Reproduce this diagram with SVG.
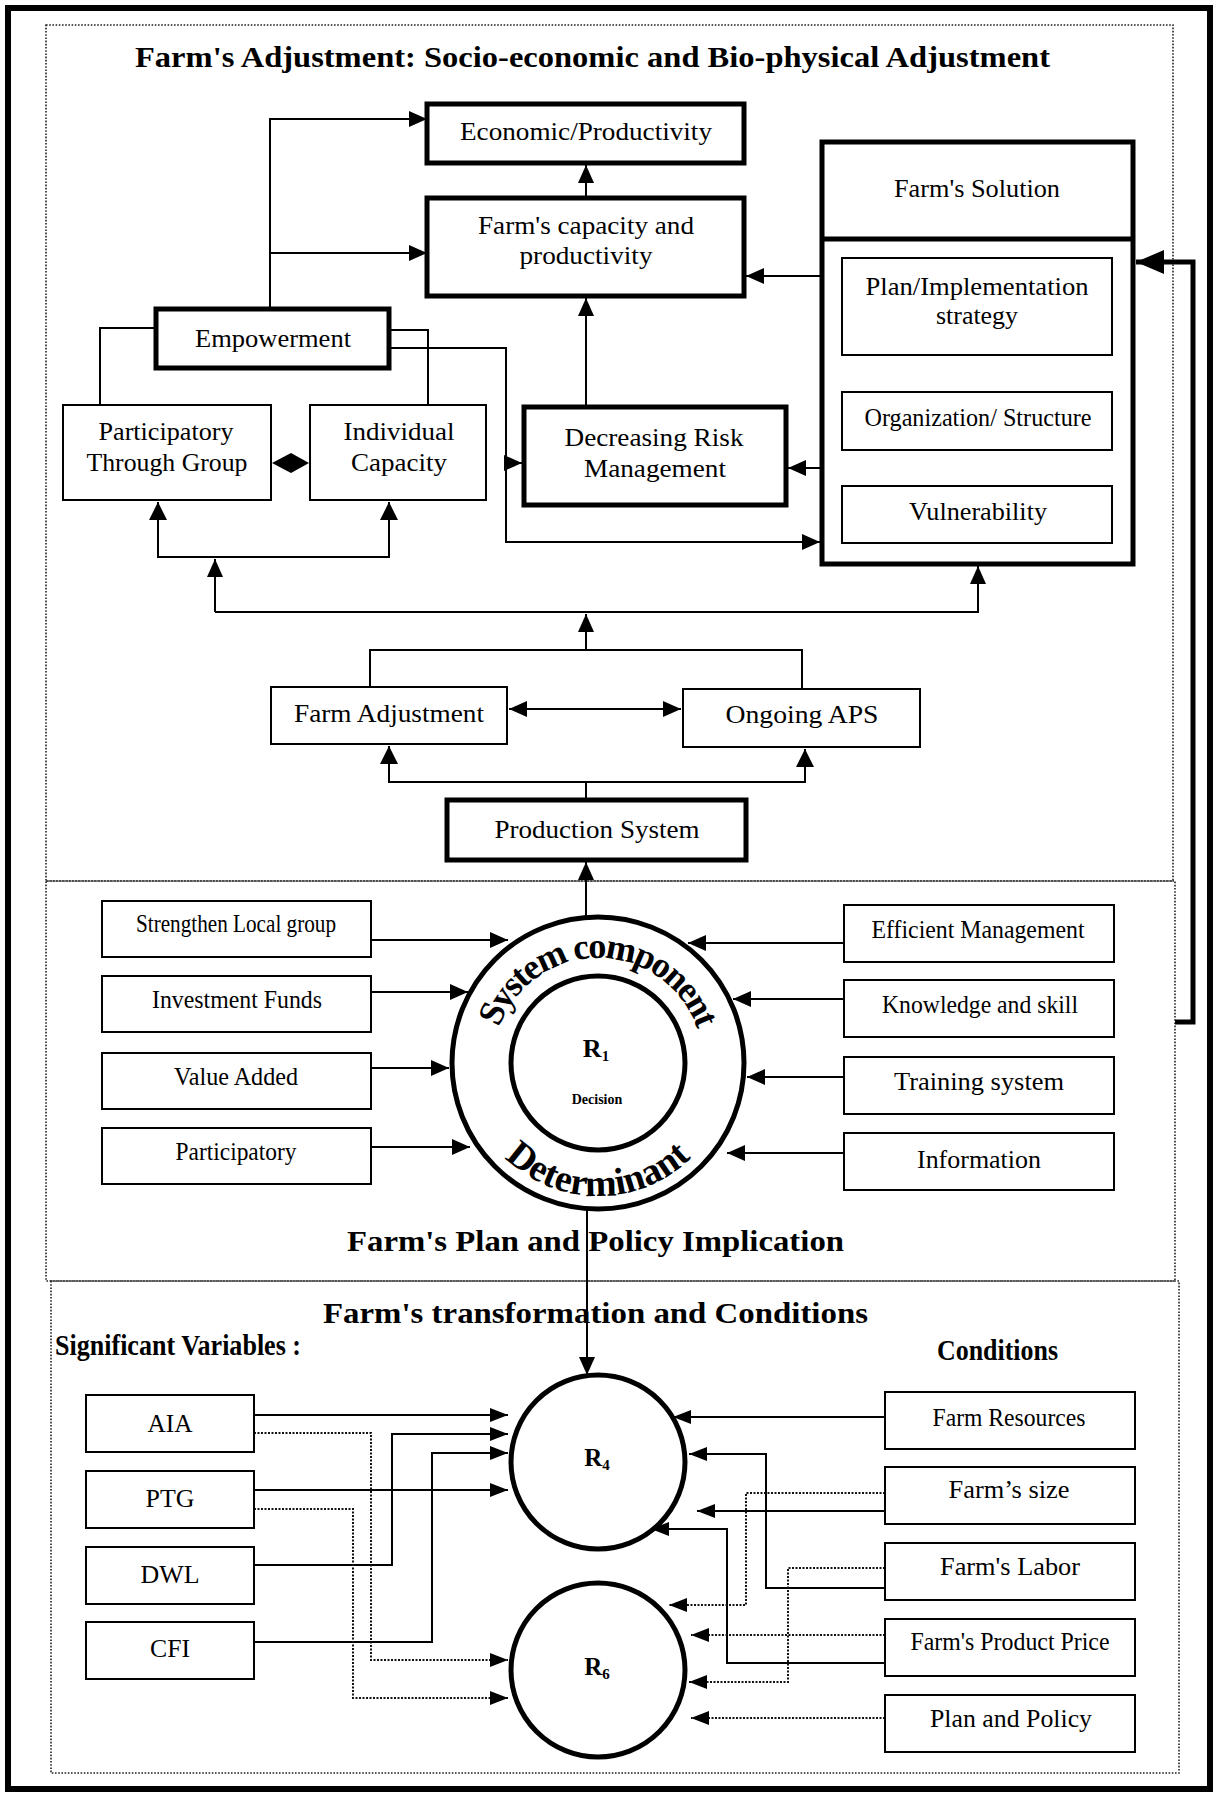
<svg xmlns="http://www.w3.org/2000/svg" width="1220" height="1795" viewBox="0 0 1220 1795">
<style>
text{font-family:"Liberation Serif","Times New Roman",serif;fill:#000;}
.lb{font-size:25px;text-anchor:middle;}
.tt{font-size:29px;font-weight:bold;}
.thick{fill:#fff;stroke:#000;stroke-width:5;}
.thin{fill:#fff;stroke:#000;stroke-width:2;}
.frame{fill:none;stroke:#222;stroke-width:1.6;stroke-dasharray:1.6 1.6;}
.c{fill:none;stroke:#000;stroke-width:2;}
.d{fill:none;stroke:#111;stroke-width:2;stroke-dasharray:2 1.5;}
.ring{fill:none;stroke:#000;stroke-width:5;}
</style>
<defs>
<marker id="a" markerUnits="userSpaceOnUse" viewBox="0 0 18 16" markerWidth="18" markerHeight="16" refX="18" refY="8" orient="auto-start-reverse"><path d="M0,0 L18,8 L0,16 z" fill="#000"/></marker>
<marker id="s" markerUnits="userSpaceOnUse" viewBox="0 0 18 14" markerWidth="18" markerHeight="14" refX="18" refY="7" orient="auto"><path d="M0,0 L18,7 L0,14 z" fill="#000"/></marker>
<marker id="b" markerUnits="userSpaceOnUse" viewBox="0 0 28 24" markerWidth="28" markerHeight="24" refX="28" refY="12" orient="auto"><path d="M0,0 L28,12 L0,24 z" fill="#000"/></marker>
<path id="arcTop" d="M493,1063 A105,105 0 0 1 703,1063"/>
<path id="arcBot" d="M465,1063 A133,133 0 0 0 731,1063"/>
</defs>
<rect width="1220" height="1795" fill="#fff"/>

<g id="frames">
<rect x="8" y="8" width="1202" height="1781" fill="none" stroke="#000" stroke-width="6"/>
<rect class="frame" x="46" y="25" width="1127" height="856"/>
<rect class="frame" x="46" y="881" width="1129" height="400"/>
<rect class="frame" x="51" y="1281" width="1128" height="492"/>
</g>

<g id="titles">
<text class="tt" x="135" y="67" font-size="28" textLength="915" lengthAdjust="spacingAndGlyphs">Farm's Adjustment: Socio-economic and Bio-physical Adjustment</text>
<text class="tt" x="347" y="1251" textLength="497" lengthAdjust="spacingAndGlyphs">Farm's Plan and Policy Implication</text>
<text class="tt" x="323" y="1323" textLength="545" lengthAdjust="spacingAndGlyphs">Farm's transformation and Conditions</text>
<text class="tt" x="55" y="1355" font-size="26" textLength="246" lengthAdjust="spacingAndGlyphs">Significant Variables :</text>
<text class="tt" x="937" y="1360" font-size="26" textLength="121" lengthAdjust="spacingAndGlyphs">Conditions</text>
</g>

<g id="connectors">
<path class="c" d="M270,309 V119 H427" marker-end="url(#a)"/>
<path class="c" d="M270,253 H427" marker-end="url(#a)"/>
<path class="c" d="M586,198 V165" marker-end="url(#a)"/>
<path class="c" d="M586,407 V298" marker-end="url(#a)"/>
<path class="c" d="M822,276 H746" marker-end="url(#a)"/>
<path class="c" d="M822,468 H788" marker-end="url(#a)"/>
<path class="c" d="M156,328 H100 V405"/>
<path class="c" d="M389,330 H428 V405"/>
<path class="c" d="M389,348 H506 V542 H820" marker-end="url(#a)"/>
<path class="c" d="M506,463 H522" marker-end="url(#a)"/>
<polygon points="272,463 291,453 309,463 291,473" fill="#000"/>
<path class="c" d="M158,502 V557 H389 V502"/>
<path d="M158,502 l-9,18 h18 z M389,502 l-9,18 h18 z" fill="#000"/>
<path class="c" d="M215,612 V559" marker-end="url(#a)"/>
<path class="c" d="M215,612 H978 V566" marker-end="url(#a)"/>
<path class="c" d="M586,650 V614" marker-end="url(#a)"/>
<path class="c" d="M370,687 V650 H802 V689"/>
<path class="c" d="M509,709 H681" marker-start="url(#a)" marker-end="url(#a)"/>
<path class="c" d="M586,800 V782"/>
<path class="c" d="M389,746 V782 H805 V749"/>
<path d="M389,746 l-9,18 h18 z M805,749 l-9,18 h18 z" fill="#000"/>
<path class="c" d="M586,917 V862" marker-end="url(#a)"/>

<path class="c" d="M370,940 H508" marker-end="url(#a)"/>
<path class="c" d="M370,992 H468" marker-end="url(#a)"/>
<path class="c" d="M370,1068 H449" marker-end="url(#a)"/>
<path class="c" d="M370,1147 H470" marker-end="url(#a)"/>
<path class="c" d="M844,943 H688" marker-end="url(#a)"/>
<path class="c" d="M844,999 H733" marker-end="url(#a)"/>
<path class="c" d="M844,1077 H747" marker-end="url(#a)"/>
<path class="c" d="M844,1153 H727" marker-end="url(#a)"/>
<path d="M1175,1022 H1193 V262 H1136" fill="none" stroke="#000" stroke-width="5" marker-end="url(#b)"/>
<path class="c" d="M587,1209 V1375" marker-end="url(#a)"/>

<path class="c" d="M254,1415 H508" marker-end="url(#s)"/>
<path class="c" d="M254,1565 H392 V1434 H508" marker-end="url(#s)"/>
<path class="c" d="M254,1642 H432 V1453 H508" marker-end="url(#s)"/>
<path class="c" d="M254,1490 H508" marker-end="url(#s)"/>
<path class="d" d="M254,1433 H371 V1660 H508" marker-end="url(#s)"/>
<path class="d" d="M254,1509 H353 V1698 H508" marker-end="url(#s)"/>
<path class="c" d="M885,1417 H673" marker-end="url(#s)"/>
<path class="c" d="M885,1511 H697" marker-end="url(#s)"/>
<path class="c" d="M885,1588 H766 V1454 H689" marker-end="url(#s)"/>
<path class="c" d="M885,1663 H727 V1529 H651" marker-end="url(#s)"/>
<path class="d" d="M885,1493 H746 V1605 H669" marker-end="url(#s)"/>
<path class="d" d="M885,1568 H788 V1682 H689" marker-end="url(#s)"/>
<path class="d" d="M885,1635 H691" marker-end="url(#s)"/>
<path class="d" d="M885,1718 H691" marker-end="url(#s)"/>
</g>

<g id="economic"><rect class="thick" x="427" y="104" width="317" height="59"/><text class="lb" x="586" y="140" font-size="26" textLength="252" lengthAdjust="spacingAndGlyphs">Economic/Productivity</text></g>
<g id="capacity"><rect class="thick" x="427" y="198" width="317" height="98"/><text class="lb" x="586" y="234" font-size="26" textLength="216" lengthAdjust="spacingAndGlyphs">Farm's capacity and</text><text class="lb" x="586" y="264" font-size="26" textLength="133" lengthAdjust="spacingAndGlyphs">productivity</text></g>
<g id="empowerment"><rect class="thick" x="156" y="309" width="233" height="59"/><text class="lb" x="273" y="347" font-size="26" textLength="156" lengthAdjust="spacingAndGlyphs">Empowerment</text></g>
<g id="participatory-group"><rect class="thin" x="63" y="405" width="208" height="95"/><text class="lb" x="166" y="440" font-size="26" textLength="135" lengthAdjust="spacingAndGlyphs">Participatory</text><text class="lb" x="167" y="471" font-size="26" textLength="161" lengthAdjust="spacingAndGlyphs">Through Group</text></g>
<g id="individual"><rect class="thin" x="310" y="405" width="176" height="95"/><text class="lb" x="399" y="440" font-size="26" textLength="111" lengthAdjust="spacingAndGlyphs">Individual</text><text class="lb" x="399" y="471" font-size="26" textLength="96" lengthAdjust="spacingAndGlyphs">Capacity</text></g>
<g id="risk"><rect class="thick" x="524" y="407" width="262" height="98"/><text class="lb" x="654" y="446" font-size="26" textLength="179" lengthAdjust="spacingAndGlyphs">Decreasing Risk</text><text class="lb" x="655" y="477" font-size="26" textLength="142" lengthAdjust="spacingAndGlyphs">Management</text></g>
<g id="solution"><rect class="thick" x="822" y="142" width="311" height="422"/><line x1="822" y1="239" x2="1133" y2="239" stroke="#000" stroke-width="5"/><text class="lb" x="977" y="197" textLength="166" lengthAdjust="spacingAndGlyphs">Farm's Solution</text>
<rect class="thin" x="842" y="258" width="270" height="97"/><text class="lb" x="977" y="295" textLength="223" lengthAdjust="spacingAndGlyphs">Plan/Implementation</text><text class="lb" x="977" y="324" textLength="82" lengthAdjust="spacingAndGlyphs">strategy</text>
<rect class="thin" x="842" y="392" width="270" height="58"/><text class="lb" x="978" y="426" font-size="23" textLength="227" lengthAdjust="spacingAndGlyphs">Organization/ Structure</text>
<rect class="thin" x="842" y="486" width="270" height="57"/><text class="lb" x="978" y="520" textLength="138" lengthAdjust="spacingAndGlyphs">Vulnerability</text></g>
<g id="farm-adjustment"><rect class="thin" x="271" y="687" width="236" height="57"/><text class="lb" x="389" y="722" textLength="190" lengthAdjust="spacingAndGlyphs">Farm Adjustment</text></g>
<g id="ongoing-aps"><rect class="thin" x="683" y="689" width="237" height="58"/><text class="lb" x="802" y="723" font-size="26" textLength="153" lengthAdjust="spacingAndGlyphs">Ongoing APS</text></g>
<g id="production"><rect class="thick" x="447" y="800" width="299" height="60"/><text class="lb" x="597" y="838" textLength="205" lengthAdjust="spacingAndGlyphs">Production System</text></g>

<g id="r1">
<circle class="ring" cx="598" cy="1063" r="146"/>
<circle class="ring" cx="598" cy="1063" r="87"/>
<text font-size="36" font-weight="bold" letter-spacing="-2"><textPath href="#arcTop" startOffset="50%" text-anchor="middle">System component</textPath></text>
<text font-size="38" font-weight="bold"><textPath href="#arcBot" startOffset="50%" text-anchor="middle">Determinant</textPath></text>
<text x="596" y="1057" font-size="26" font-weight="bold" text-anchor="middle">R<tspan font-size="15" dy="4">1</tspan></text>
<text x="597" y="1104" font-size="14" font-weight="bold" text-anchor="middle">Decision</text>
</g>

<g id="strengthen"><rect class="thin" x="102" y="901" width="269" height="56"/><text class="lb" x="236" y="932" font-size="21" textLength="200" lengthAdjust="spacingAndGlyphs">Strengthen Local group</text></g>
<g id="investment"><rect class="thin" x="102" y="976" width="269" height="56"/><text class="lb" x="237" y="1008" font-size="23" textLength="170" lengthAdjust="spacingAndGlyphs">Investment Funds</text></g>
<g id="value-added"><rect class="thin" x="102" y="1053" width="269" height="56"/><text class="lb" x="236" y="1085" font-size="23" textLength="124" lengthAdjust="spacingAndGlyphs">Value Added</text></g>
<g id="participatory"><rect class="thin" x="102" y="1128" width="269" height="56"/><text class="lb" x="236" y="1160" font-size="22" textLength="121" lengthAdjust="spacingAndGlyphs">Participatory</text></g>
<g id="efficient"><rect class="thin" x="844" y="905" width="270" height="57"/><text class="lb" x="978" y="938" font-size="22" textLength="213" lengthAdjust="spacingAndGlyphs">Efficient Management</text></g>
<g id="knowledge"><rect class="thin" x="844" y="980" width="270" height="57"/><text class="lb" x="980" y="1013" font-size="23" textLength="196" lengthAdjust="spacingAndGlyphs">Knowledge and skill</text></g>
<g id="training"><rect class="thin" x="844" y="1057" width="270" height="57"/><text class="lb" x="979" y="1090" textLength="170" lengthAdjust="spacingAndGlyphs">Training system</text></g>
<g id="information"><rect class="thin" x="844" y="1133" width="270" height="57"/><text class="lb" x="979" y="1168" font-size="24" textLength="124" lengthAdjust="spacingAndGlyphs">Information</text></g>

<g id="r4"><circle class="ring" cx="598" cy="1462" r="87"/><text x="597" y="1466" font-size="25" font-weight="bold" text-anchor="middle">R<tspan font-size="15" dy="4">4</tspan></text></g>
<g id="r6"><circle class="ring" cx="598" cy="1670" r="87"/><text x="597" y="1675" font-size="25" font-weight="bold" text-anchor="middle">R<tspan font-size="15" dy="4">6</tspan></text></g>

<g id="aia"><rect class="thin" x="86" y="1395" width="168" height="57"/><text class="lb" x="170" y="1432" textLength="45" lengthAdjust="spacingAndGlyphs">AIA</text></g>
<g id="ptg"><rect class="thin" x="86" y="1471" width="168" height="57"/><text class="lb" x="170" y="1507" textLength="49" lengthAdjust="spacingAndGlyphs">PTG</text></g>
<g id="dwl"><rect class="thin" x="86" y="1547" width="168" height="57"/><text class="lb" x="170" y="1583" textLength="59" lengthAdjust="spacingAndGlyphs">DWL</text></g>
<g id="cfi"><rect class="thin" x="86" y="1622" width="168" height="57"/><text class="lb" x="170" y="1657" textLength="40" lengthAdjust="spacingAndGlyphs">CFI</text></g>

<g id="farm-resources"><rect class="thin" x="885" y="1392" width="250" height="57"/><text class="lb" x="1009" y="1426" font-size="22" textLength="153" lengthAdjust="spacingAndGlyphs">Farm Resources</text></g>
<g id="farm-size"><rect class="thin" x="885" y="1467" width="250" height="57"/><text class="lb" x="1009" y="1498" textLength="121" lengthAdjust="spacingAndGlyphs">Farm’s size</text></g>
<g id="farm-labor"><rect class="thin" x="885" y="1543" width="250" height="57"/><text class="lb" x="1010" y="1575" textLength="140" lengthAdjust="spacingAndGlyphs">Farm's Labor</text></g>
<g id="product-price"><rect class="thin" x="885" y="1619" width="250" height="57"/><text class="lb" x="1010" y="1650" font-size="22" textLength="199" lengthAdjust="spacingAndGlyphs">Farm's Product Price</text></g>
<g id="plan-policy"><rect class="thin" x="885" y="1695" width="250" height="57"/><text class="lb" x="1011" y="1727" font-size="26" textLength="162" lengthAdjust="spacingAndGlyphs">Plan and Policy</text></g>
</svg>
